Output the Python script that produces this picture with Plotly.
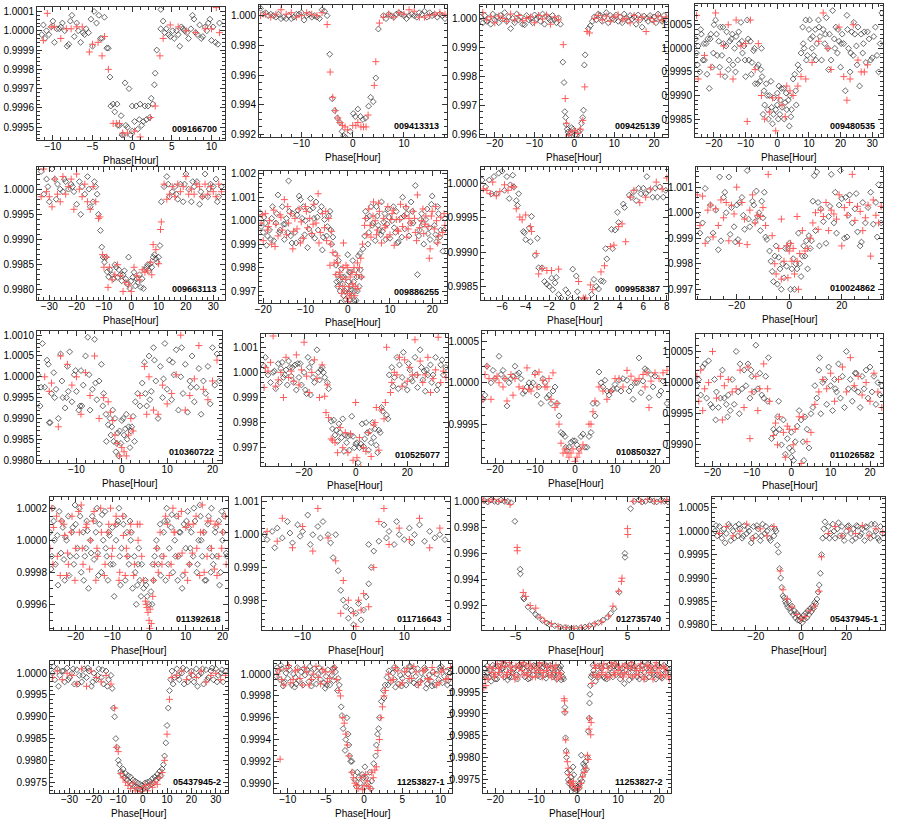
import plotly.graph_objects as go

# ---------------- data (phase in hours, relative flux) ----------------
P01_ID = "009166700"
P01_B = [(-11.4,0.99998),(-11.2,1.00003),(-11.0,0.99996),(-10.8,1.00000),(-10.5,0.99998),(-10.2,1.00002),(-10.0,1.00005),(-9.8,0.99994),(-9.5,1.00001),(-9.2,1.00001),(-9.0,1.00002),(-8.8,1.00004),(-8.5,1.00000),(-8.2,0.99992),(-8.0,0.99993),(-7.8,1.00005),(-7.6,1.00008),(-7.3,0.99997),(-7.0,1.00004),(-6.8,1.00000),(-6.5,0.99994),(-6.2,0.99999),(-6.0,0.99998),(-5.8,1.00001),(-5.5,0.99999),(-5.2,1.00006),(-5.0,0.99992),(-4.8,1.00010),(-4.5,1.00004),(-4.2,1.00008),(-4.0,0.99996),(-3.8,0.99996),(-3.5,1.00007),(-3.2,0.99991),(-3.0,0.99991),(-2.8,0.99976),(-2.7,0.99961),(-2.4,0.99962),(-2.2,0.99958),(-1.9,0.99962),(-1.8,0.99951),(-1.6,0.99951),(-1.4,0.99956),(-1.3,0.99946),(-1.1,0.99946),(-0.9,0.99973),(-0.8,0.99951),(-0.6,0.99950),(-0.4,0.99970),(-0.2,0.99946),(0.0,0.99948),(0.0,0.99961),(0.3,0.99953),(0.5,0.99961),(0.7,0.99949),(0.9,0.99954),(1.0,0.99962),(1.2,0.99951),(1.4,0.99953),(1.6,0.99961),(1.8,0.99954),(2.0,0.99961),(2.2,0.99955),(2.4,0.99965),(2.6,0.99962),(2.8,0.99972),(2.9,0.99978),(3.1,0.99990),(3.6,1.00001),(3.6,1.00011),(3.9,1.00005),(4.1,0.99999),(4.3,1.00001),(4.6,0.99998),(4.8,0.99997),(5.1,1.00000),(5.3,0.99996),(5.6,1.00000),(5.8,0.99998),(6.0,0.99992),(6.2,1.00002),(6.4,1.00001),(6.6,1.00000),(6.9,0.99999),(7.1,0.99996),(7.4,1.00001),(7.6,1.00008),(7.8,1.00006),(8.0,0.99999),(8.2,0.99998),(8.5,1.00003),(8.7,0.99996),(8.9,0.99997),(9.2,1.00002),(9.4,1.00000),(9.6,1.00004),(9.8,1.00006),(10.0,0.99995),(10.2,1.00002),(10.5,0.99994),(10.8,0.99993),(11.0,1.00004)]
P01_R = [(-11.2,0.99995),(-10.7,1.00009),(-10.2,1.00002),(-9.8,1.00002),(-9.0,0.99996),(-8.3,1.00001),(-7.7,1.00001),(-7.0,1.00002),(-6.3,1.00002),(-5.4,0.99989),(-5.0,0.99993),(-4.3,0.99994),(-3.8,0.99987),(-3.5,0.99997),(-3.0,0.99980),(-2.4,0.99952),(-2.0,0.99952),(-1.6,0.99952),(-1.2,0.99947),(-0.6,0.99947),(0.3,0.99948),(1.0,0.99945),(2.3,0.99955),(2.9,0.99961),(3.5,0.99987),(3.9,0.99996),(4.8,1.00003),(5.8,1.00002),(6.8,1.00000),(8.0,0.99999),(9.2,1.00001),(10.0,1.00001),(10.6,1.00012),(11.0,0.99999)]

P02_ID = "009413313"
P02_B = [(-18,1.0005),(-17.5,1.0001),(-17,1.0002),(-16.5,1.0000),(-16,1.0001),(-15.5,1.0000),(-15,0.9999),(-14.5,1.0001),(-14,0.9998),(-13.5,0.9999),(-13,0.9998),(-12.5,1.0000),(-12,0.9998),(-11.5,0.9999),(-11,1.0001),(-10.5,1.0001),(-10,1.0002),(-9.5,0.9997),(-9,1.0000),(-8.5,1.0001),(-8,0.9999),(-7.5,1.0000),(-7,0.9999),(-6.5,0.9998),(-6,1.0004),(-5.5,1.0003),(-5,1.0000),(-4.5,0.9974),(-4,0.9944),(-3.5,0.9936),(-3,0.9931),(-2.5,0.9928),(-2.1,0.9922),(-1.8,0.9919),(-1.4,0.9918),(-0.5,0.9922),(0.1,0.9934),(0.5,0.9932),(1,0.9937),(1.5,0.9932),(2,0.9930),(2.5,0.9931),(3.1,0.9939),(3.5,0.9945),(4,0.9942),(4.5,0.9958),(5,0.9991),(6,1.0000),(6.5,0.9998),(7,1.0001),(7.5,1.0000),(8,0.9999),(8.5,1.0001),(9,1.0002),(9.5,1.0001),(10,1.0000),(10.5,0.9998),(11,1.0000),(11.5,1.0001),(12,1.0000),(12.5,0.9999),(13,1.0002),(13.5,1.0001),(14,1.0003),(14.5,0.9999),(15,1.0002),(15.5,1.0000),(16,1.0001),(16.5,0.9999),(17,1.0001),(17.5,1.0000),(18,0.9998)]
P02_R = [(-18,1.0000),(-17,1.0001),(-16,0.9999),(-15,1.0001),(-14,1.0004),(-13,1.0001),(-12,1.0002),(-11,0.9999),(-10,1.0000),(-9,1.0002),(-8,1.0001),(-7,1.0000),(-6,1.0002),(-5,0.9994),(-4.4,0.9962),(-3.9,0.9945),(-3.4,0.9936),(-2.9,0.9931),(-2.5,0.9928),(-2,0.9926),(-1.5,0.9925),(-1,0.9923),(0,0.9926),(0.6,0.9926),(1,0.9928),(1.6,0.9925),(2.1,0.9925),(2.6,0.9925),(3,0.9933),(4.2,0.9953),(4.5,0.9969),(5.2,0.9995),(6,0.9999),(7,1.0001),(8,0.9999),(9,1.0002),(10,1.0001),(11,1.0004),(12,1.0003),(13,0.9999),(14,0.9999),(15,1.0000),(16,1.0001),(17,1.0002),(18,1.0001)]

P03_ID = "009425139"
P03_B = [(-23.5,1.00005),(-23,0.99985),(-22.5,1.00010),(-22,0.99990),(-21.5,1.00000),(-21,0.99980),(-20.5,1.00015),(-20,0.99995),(-19.5,1.00005),(-19,0.99985),(-18.5,1.00010),(-18,0.99998),(-17.5,1.00020),(-17,0.99990),(-16.5,1.00005),(-16,0.99965),(-15.5,1.00000),(-15,0.99985),(-14.5,1.00015),(-14,0.99995),(-13.5,1.00005),(-13,0.99980),(-12.5,0.99978),(-12,1.00010),(-11.5,0.99995),(-11,1.00000),(-10.5,0.99985),(-10,1.00012),(-9.5,0.99998),(-9,1.00005),(-8.5,0.99990),(-8,1.00015),(-7.5,0.99980),(-7,1.00008),(-6.5,1.00000),(-6,0.99992),(-5.5,1.00010),(-5,0.99995),(-4.5,0.99985),(-4,1.00002),(-3.5,0.99980),(-2.9,0.99850),(-2.6,0.99780),(-2.4,0.99680),(-2.2,0.99660),(-2.0,0.99635),(-1.8,0.99620),(-1.6,0.99610),(-1.4,0.99595),(-1.1,0.99605),(-0.7,0.99625),(-0.3,0.99620),(0.2,0.99600),(0.6,0.99598),(1.0,0.99610),(1.4,0.99615),(1.8,0.99640),(2.1,0.99660),(2.3,0.99685),(2.5,0.99840),(2.7,0.99875),(3.5,0.99965),(4,0.99975),(4.5,0.99990),(5,1.00005),(5.5,0.99995),(6,1.00015),(6.5,1.00010),(7,0.99990),(7.5,1.00005),(8,1.00020),(8.5,0.99985),(9,1.00010),(9.5,1.00000),(10,0.99995),(10.5,1.00012),(11,0.99990),(11.5,1.00005),(12,0.99985),(12.5,1.00015),(13,1.00000),(13.5,0.99990),(14,1.00010),(14.5,0.99998),(15,1.00005),(15.5,0.99980),(16,1.00012),(16.5,0.99995),(17,0.99970),(17.5,1.00008),(18,1.00000),(18.5,0.99990),(19,1.00010),(19.5,0.99995),(20,1.00005),(20.5,0.99985),(21,1.00015),(21.5,1.00000),(22,0.99990),(22.5,1.00010),(23,0.99995)]
P03_R = [(-23,1.00020),(-22,0.99995),(-21,1.00005),(-20,0.99985),(-19,1.00008),(-18,1.00000),(-17,0.99990),(-16,1.00015),(-15,0.99995),(-14,1.00010),(-13,0.99992),(-12,1.00000),(-11,1.00005),(-10,0.99985),(-9,1.00010),(-8,0.99998),(-7,1.00012),(-6,0.99980),(-5,1.00005),(-4,0.99995),(-2.8,0.99910),(-2.3,0.99725),(-2,0.99640),(-1.5,0.99600),(-0.8,0.99610),(0,0.99615),(0.8,0.99605),(1.5,0.99620),(2.1,0.99650),(2.6,0.99765),(3.2,0.99955),(3.8,0.99950),(5,1.00000),(6,1.00010),(7,0.99995),(8,1.00008),(9,0.99990),(10,1.00005),(11,1.00012),(12,0.99995),(13,1.00000),(14,0.99985),(15,1.00010),(16,0.99995),(17,1.00005),(18,0.99955),(19,1.00000),(20,0.99990),(21,1.00008),(22,0.99995),(23,1.00005)]

P04_ID = "009480535"
P04_B = [(-25.8,1.00020),(-25.5,0.99990),(-25,1.00005),(-24.5,0.99950),(-24,1.00030),(-23.5,0.99975),(-23,0.99975),(-22.5,1.00010),(-22,1.00020),(-21.5,0.99915),(-21,1.00030),(-20.5,0.99960),(-20,1.00050),(-19.5,1.00060),(-19,0.99985),(-18.5,1.00015),(-18,1.00045),(-17.5,0.99985),(-17,1.00010),(-16.5,0.99940),(-16,1.00035),(-15.5,0.99955),(-15,1.00015),(-14.5,1.00020),(-14,0.99965),(-13.5,1.00000),(-13,1.00025),(-12.5,0.99975),(-12,1.00010),(-11.5,1.00055),(-11,0.99990),(-10.5,1.00005),(-10,0.99940),(-9.5,1.00060),(-9,0.99975),(-8.5,1.00015),(-8,0.99970),(-7.5,0.99995),(-7,0.99925),(-6.5,0.99960),(-6,0.99965),(-5.5,0.99930),(-5,1.00000),(-4.8,0.99940),(-4.5,0.99860),(-4.2,0.99910),(-4,0.99880),(-3.5,0.99925),(-3,0.99870),(-2.8,0.99850),(-2.5,0.99900),(-2,0.99930),(-1.8,0.99875),(-1.5,0.99840),(-1,0.99895),(-0.5,0.99870),(0,0.99905),(0,0.99880),(0.5,0.99920),(0.8,0.99860),(1,0.99890),(1.5,0.99875),(2,0.99915),(2.2,0.99850),(2.5,0.99885),(3,0.99870),(3.5,0.99890),(3.8,0.99835),(4,0.99900),(4.5,0.99870),(5,0.99935),(5.5,0.99945),(6,0.99880),(6.5,0.99965),(7,0.99955),(7.5,0.99990),(8,1.00045),(8.5,1.00000),(9,1.00060),(9.5,0.99985),(10,1.00040),(10.5,1.00020),(11,1.00000),(11.5,0.99985),(12,1.00040),(12.5,1.00010),(13,1.00060),(13.5,1.00025),(14,0.99975),(14.5,1.00040),(15,1.00010),(15.5,1.00065),(16,1.00000),(16.5,1.00030),(17,0.99975),(17.5,1.00080),(18,1.00020),(18.5,1.00045),(19,0.99990),(19.5,1.00015),(20,0.99960),(20.5,1.00030),(21,1.00010),(21.5,0.99910),(22,1.00070),(22.5,1.00000),(23,0.99950),(23.5,1.00035),(24,0.99985),(24.5,1.00030),(25,1.00005),(25.5,1.00045),(26,0.99920),(26.5,1.00030),(27,0.99990),(27.5,1.00035),(28,0.99970),(29,1.00020),(30,0.99980),(31,1.00045),(32,0.99950),(33,1.00075),
           (-25.2,0.99965),(-24.2,1.00040),(-23.2,1.00010),(-22.2,0.99945),(-21.2,1.00020),(-20.2,0.99990),(-19.2,1.00030),(-18.2,0.99960),(-17.2,1.00045),(-16.2,1.00005),(-15.2,0.99975),(-14.2,1.00030),(-13.2,0.99950),(-12.2,1.00035),(-11.2,1.00015),(-10.2,0.99975),(-9.2,1.00020),(-8.2,0.99945),(-7.2,1.00000),(-6.2,0.99925),(-5.2,0.99955),(-3.2,0.99900),(-1.2,0.99860),(0.3,0.99850),(1.3,0.99915),(2.8,0.99905),(4.3,0.99855),(5.8,0.99910),(8.2,1.00010),(9.2,0.99975),(10.2,1.00060),(11.2,1.00025),(12.2,0.99975),(13.2,1.00045),(15.2,1.00030),(16.2,0.99955),(18.2,1.00000),(19.2,1.00040),(20.2,1.00010),(22.2,1.00040),(23.2,0.99990),(24.2,1.00055),(25.2,0.99965),(27.2,1.00010),(28.5,1.00035),(29.5,0.99975),(30.5,1.00025),(31.5,0.99985),(32.5,1.00010)]
P04_R = [(-25.5,1.00070),(-25,0.99935),(-23,0.99985),(-21,0.99960),(-19.5,1.00075),(-18,0.99945),(-17,1.00005),(-15.5,1.00050),(-14,0.99935),(-13,1.00060),(-11.5,1.00005),(-10,1.00010),(-9.5,0.99845),(-8.5,1.00060),(-7,0.99955),(-6,1.00010),(-5,0.99900),(-4,0.99850),(-2.5,0.99865),(-1.5,0.99895),(-0.5,0.99825),(0.5,0.99895),(1.5,0.99880),(2.5,0.99855),(3,0.99920),(4,0.99910),(5,0.99900),(6.5,0.99920),(7.5,0.99940),(9,0.99935),(11,0.99970),(13,1.00015),(14.5,1.00075),(16,1.00000),(17,0.99955),(19.5,1.00045),(21,0.99940),(22,0.99890),(23,0.99935),(24,1.00050),(25.5,0.99975),(26.5,0.99950),(27.5,0.99950),(28.5,0.99965)]

P05_ID = "009663113"
P05_B = [(-33,1.00035),(-32,0.99990),(-31,1.00020),(-30,0.99975),(-29,1.00040),(-28,1.00020),(-27,1.00010),(-26,1.00000),(-25,0.99995),(-24,1.00015),(-23,1.00000),(-22,1.00010),(-21,0.99995),(-20,0.99970),(-19,1.00015),(-18,1.00005),(-17,0.99990),(-16,1.00025),(-15,0.99965),(-14,0.99975),(-13,1.00005),(-12.5,0.99990),(-12,0.99950),(-30.5,1.00005),(-27.5,0.99980),(-24.5,1.00020),(-21.5,1.00005),(-18.5,0.99950),(-15.5,1.00000),(-13.5,1.00015),(-11.3,0.99918),(-10.8,0.99885),(-10.3,0.99865),(-9.8,0.99855),(-9.3,0.99865),(-8.8,0.99836),(-8.3,0.99826),(-7.8,0.99840),(-7,0.99830),(-6.5,0.99822),(-6,0.99850),(-5.5,0.99845),(-5,0.99825),(-4.5,0.99840),(-4,0.99830),(-3.5,0.99818),(-3,0.99830),(-2.5,0.99838),(-2,0.99822),(-1.5,0.99812),(-1,0.99865),(-0.5,0.99803),(0,0.99818),(0.5,0.99825),(1,0.99835),(1.5,0.99808),(2,0.99822),(2.5,0.99815),(3,0.99830),(3.5,0.99805),(4,0.99822),(4.5,0.99803),(5,0.99840),(5.5,0.99845),(6,0.99850),(6.5,0.99838),(7,0.99852),(7.5,0.99845),(8,0.99865),(8.5,0.99870),(9,0.99862),(9.5,0.99855),(10,0.99865),(10.5,0.99888),(11,0.99975),(12,1.00005),(13,1.00025),(14,0.99985),(15,0.99995),(16,1.00005),(17,0.99980),(18,1.00010),(19,0.99975),(20,1.00030),(21,1.00000),(22,0.99975),(23,1.00005),(24,1.00015),(25,0.99970),(26,0.99985),(27,1.00030),(28,0.99985),(29,1.00010),(30,1.00005),(31,1.00020),(32,0.99985),(33,1.00005),(13.5,1.00010),(16.5,0.99990),(19.5,1.00010),(22.5,1.00015),(25.5,0.99995),(28.5,1.00000),(31.5,0.99975)]
P05_R = [(-33,0.99985),(-32,1.00040),(-31,0.99995),(-30,0.99985),(-29,0.99965),(-28,1.00020),(-27,0.99990),(-26,0.99975),(-25,1.00025),(-24,0.99990),(-23,1.00005),(-22,1.00020),(-21,0.99960),(-20,1.00030),(-19,1.00000),(-18,0.99985),(-17,1.00010),(-16,0.99975),(-15,0.99960),(-14,1.00005),(-13,0.99975),(-12,0.99942),(-11.5,0.99945),(-10.5,0.99870),(-10,0.99845),(-9,0.99865),(-8.5,0.99805),(-8,0.99845),(-7,0.99820),(-6,0.99830),(-5,0.99850),(-4,0.99828),(-3,0.99797),(-2,0.99815),(-1,0.99810),(0,0.99797),(1,0.99845),(2,0.99828),(3,0.99820),(4,0.99840),(5,0.99835),(6,0.99838),(7,0.99855),(7.5,0.99830),(8,0.99890),(9,0.99880),(10,0.99852),(10.7,0.99920),(11,0.99935),(12,1.00010),(13,0.99980),(14,0.99990),(15,1.00005),(16,0.99985),(17,1.00010),(18,0.99995),(19,1.00005),(20,1.00025),(21,0.99990),(22,1.00000),(23,0.99990),(24,1.00010),(25,1.00005),(26,0.99985),(27,1.00010),(28,0.99990),(29,1.00005),(30,0.99995),(31,0.99985),(32,1.00010),(33,0.99995)]

P06_ID = "009886255"
P06_B = [(-20.5,0.99975),(-20,0.99950),(-19.5,0.99990),(-19,0.99935),(-18.5,0.99960),(-18,1.00010),(-17.5,0.99915),(-17,0.99990),(-16.5,1.00110),(-16,0.99960),(-15.5,1.00060),(-15,0.99920),(-14.5,1.00010),(-14,1.00170),(-13.5,0.99935),(-13,1.00030),(-12.5,0.99950),(-12,1.00025),(-11.5,1.00105),(-11,0.99920),(-10.5,1.00060),(-10,1.00000),(-9.5,0.99885),(-9,1.00045),(-8.5,0.99940),(-8,1.00010),(-7.5,1.00080),(-7,0.99960),(-6.5,1.00040),(-6,0.99875),(-5.5,1.00005),(-5,0.99935),(-4.5,1.00020),(-4,0.99960),(-3.5,0.99930),(-19.8,1.00015),(-18.2,0.99920),(-16.8,1.00030),(-15.2,0.99985),(-13.8,1.00040),(-12.2,0.99905),(-10.8,1.00010),(-9.2,0.99965),(-7.8,0.99925),(-6.2,1.00060),(-4.8,0.99975),(-11.2,1.00090),(-8.2,1.00055),(-14.2,0.99950),(-2.8,0.99810),(-2.5,0.99770),(-2.2,0.99830),(-2,0.99745),(-1.8,0.99700),(-1.5,0.99795),(-1.2,0.99730),(-1,0.99680),(-0.8,0.99760),(-0.5,0.99665),(-0.3,0.99710),(0,0.99855),(0.2,0.99740),(0.4,0.99690),(0.6,0.99780),(0.8,0.99720),(1,0.99680),(1.2,0.99830),(1.4,0.99740),(1.6,0.99700),(1.8,0.99790),(2,0.99660),(2.2,0.99760),(2.5,0.99850),(2.7,0.99720),(3,0.99790),(3.2,0.99760),(-1.6,0.99650),(0.5,0.99660),(-2.4,0.99720),(4,0.99935),(4.5,1.00010),(5,0.99950),(5.5,1.00060),(6,0.99990),(6.5,0.99915),(7,1.00020),(7.5,0.99960),(8,1.00080),(8.5,0.99995),(9,0.99920),(9.5,1.00050),(10,0.99925),(10.5,1.00000),(11,0.99970),(11.5,1.00040),(12,0.99910),(12.5,1.00010),(13,1.00100),(13.5,0.99965),(14,1.00030),(14.5,0.99935),(15,1.00080),(15.5,0.99990),(16,1.00150),(16.5,0.99770),(17,0.99960),(17.5,1.00030),(18,0.99900),(18.5,1.00005),(19,0.99945),(19.5,0.99920),(20,1.00105),(20.5,0.99980),(21,0.99910),(21.5,1.00030),(22,0.99960),(22.5,0.99870),(23,1.00010),(5.2,1.00020),(7.2,0.99980),(9.8,1.00015),(11.8,0.99905),(13.8,1.00055),(17.8,0.99985),(19.8,1.00070),(21.8,0.99930),(8.2,0.99955),
           (-20.8,1.00035),(-19.2,0.99895),(-17.8,1.00060),(-16.2,0.99950),(-14.8,0.99985),(-13.2,0.99905),(-11.8,1.00045),(-10.2,0.99940),(-8.8,1.00095),(-7.2,1.00015),(-5.8,0.99930),(-4.2,1.00040),(-3.8,0.99900),(-3.0,0.99860),(-2.6,0.99740),(-1.3,0.99760),(-0.6,0.99700),(0.3,0.99780),(0.9,0.99705),(1.5,0.99660),(2.3,0.99700),(2.9,0.99860),(3.6,0.99880),(4.2,1.00040),(4.8,0.99900),(5.8,0.99980),(6.8,1.00060),(7.8,0.99940),(8.8,1.00030),(9.3,0.99985),(10.8,1.00060),(11.3,0.99950),(12.8,0.99930),(13.3,1.00020),(14.8,0.99990),(15.3,1.00040),(16.8,0.99935),(17.3,1.00005),(18.8,1.00050),(19.3,0.99970),(20.8,0.99940),(21.3,1.00060),(22.8,0.99960)]
P06_R = [(-20.5,0.99990),(-20,0.99915),(-19.5,1.00030),(-19,0.99960),(-18.5,1.00000),(-18,0.99900),(-17.5,1.00045),(-17,0.99985),(-16.5,0.99935),(-16,1.00025),(-15.5,0.99960),(-15,1.00090),(-14.5,0.99940),(-14,0.99990),(-13.5,1.00030),(-13,0.99880),(-12.5,1.00010),(-12,0.99965),(-11.5,1.00050),(-11,0.99995),(-10.5,0.99925),(-10,1.00060),(-9.5,0.99970),(-9,1.00010),(-8.5,0.99945),(-8,1.00070),(-7.5,0.99990),(-7,1.00115),(-6.5,0.99950),(-6,1.00030),(-5.5,0.99970),(-5,0.99915),(-4.5,1.00010),(-4,0.99900),(-3.5,0.99865),(-3.2,0.99820),(-1,0.99905),(-4.2,0.99810),(-2.8,0.99770),(-2.4,0.99820),(-2,0.99720),(-1.7,0.99760),(-1.4,0.99690),(-1.1,0.99800),(-0.8,0.99700),(-0.5,0.99750),(-0.2,0.99670),(0,0.99800),(0.3,0.99720),(0.6,0.99760),(0.9,0.99680),(1.2,0.99730),(1.5,0.99800),(1.8,0.99720),(2.1,0.99770),(2.4,0.99710),(2.8,0.99800),(3.1,0.99840),(0.1,0.99655),(3.5,0.99900),(4,0.99980),(4.5,0.99940),(5,1.00050),(5.5,0.99930),(6,1.00020),(6.5,1.00000),(7,0.99960),(7.5,1.00040),(8,0.99905),(8.5,1.00010),(9,0.99980),(9.5,1.00060),(10,0.99940),(10.5,1.00030),(11,0.99895),(11.5,1.00005),(12,0.99955),(12.5,1.00070),(13,0.99975),(13.5,1.00020),(14,0.99930),(14.5,1.00010),(15,0.99990),(15.5,1.00040),(16,0.99950),(16.5,1.00110),(17,0.99970),(17.5,1.00000),(18,0.99945),(18.5,1.00020),(19,0.99975),(19.5,0.99880),(20,1.00040),(20.5,0.99965),(21,1.00000),(21.5,0.99935),(22,1.00015),(22.5,0.99950),(23,0.99980),(6.1,1.00080),(19.3,0.99840),(10.2,1.00005),
           (-20.2,1.00025),(-18.8,0.99975),(-17.2,0.99890),(-15.8,1.00015),(-14.2,1.00060),(-12.8,0.99955),(-11.2,0.99905),(-9.8,1.00040),(-8.2,0.99985),(-6.8,0.99905),(-5.2,1.00040),(-3.8,0.99955),(-2.5,0.99850),(-1.9,0.99780),(-1.2,0.99720),(-0.4,0.99810),(0.4,0.99690),(1.0,0.99780),(1.7,0.99680),(2.3,0.99820),(3.3,0.99760),(4.2,1.00010),(5.3,0.99980),(6.8,0.99940),(7.3,1.00075),(8.8,0.99970),(9.3,0.99930),(10.8,1.00045),(11.8,0.99960),(12.3,1.00005),(13.8,1.00060),(14.3,0.99965),(15.8,1.00010),(16.3,0.99915),(17.8,1.00050),(18.3,0.99985),(19.8,1.00020),(20.8,1.00060),(21.3,0.99905),(22.8,1.00030)]

P07_ID = "009958387"
P07_B = [(-7.7,1.00005),(-7.4,0.99995),(-7.1,1.00005),(-6.9,0.99985),(-6.7,1.00010),(-6.5,0.99985),(-6.3,1.00015),(-6.0,1.00018),(-5.8,0.99990),(-5.6,1.00010),(-5.4,0.99978),(-5.3,0.99998),(-5.1,1.00012),(-5.0,0.99995),(-4.8,0.99975),(-4.7,0.99968),(-4.6,0.99985),(-4.2,0.99930),(-4.1,0.99928),(-4.0,0.99918),(-3.7,0.99935),(-3.6,0.99915),(-3.5,0.99952),(-3.2,0.99895),(-3.0,0.99920),(-2.9,0.99877),(-2.6,0.99877),(-2.4,0.99857),(-2.2,0.99853),(-2.0,0.99850),(-1.8,0.99862),(-1.7,0.99845),(-1.5,0.99855),(-1.4,0.99863),(-1.2,0.99838),(-1.0,0.99833),(-0.6,0.99845),(-0.4,0.99840),(-0.2,0.99831),(0.0,0.99875),(0.3,0.99865),(0.4,0.99842),(0.5,0.99831),(1.0,0.99831),(1.6,0.99838),(1.8,0.99860),(2.0,0.99850),(2.2,0.99846),(2.4,0.99858),(2.6,0.99857),(2.8,0.99905),(2.9,0.99890),(3.3,0.99933),(3.4,0.99905),(3.6,0.99932),(3.8,0.99958),(3.9,0.99943),(4.3,0.99970),(4.4,0.99965),(4.8,0.99983),(5.0,0.99980),(5.2,0.99988),(5.4,0.99975),(5.6,0.99993),(5.8,0.99985),(6.0,0.99993),(6.2,0.99985),(6.3,1.00010),(6.5,0.99990),(6.8,0.99980),(7.0,0.99993),(7.2,0.99980),(7.4,0.99995),(7.7,0.99980),(7.9,0.99990)]
P07_R = [(-7.6,0.99992),(-7.3,0.99990),(-7.0,0.99985),(-6.8,1.00002),(-6.5,0.99982),(-6.2,0.99988),(-5.8,0.99998),(-5.5,0.99990),(-5.2,0.99995),(-5.0,0.99995),(-4.8,0.99963),(-4.5,0.99951),(-4.3,0.99947),(-4.0,0.99954),(-3.6,0.99937),(-3.5,0.99930),(-3.1,0.99898),(-2.9,0.99868),(-2.6,0.99876),(-2.2,0.99873),(-1.8,0.99873),(-1.2,0.99875),(0.5,0.99857),(0.9,0.99833),(1.1,0.99833),(1.5,0.99852),(1.7,0.99845),(2.4,0.99871),(2.7,0.99880),(3.2,0.99908),(3.5,0.99910),(3.9,0.99937),(4.2,0.99941),(4.5,0.99915),(4.9,0.99980),(5.2,0.99990),(5.7,0.99972),(6.2,0.99980),(6.6,0.99992),(7.1,1.00002),(7.6,0.99992),(8.0,1.00008)]

P08_ID = "010024862"
P08_B = [(-35,0.99990),(-34,0.99920),(-33,0.99960),(-32,1.00095),(-31,0.99895),(-30,1.00030),(-29,0.99920),(-28,1.00010),(-27,0.99855),(-26.5,1.00140),(-26,0.99890),(-25,1.00060),(-24.5,1.00080),(-24,1.00000),(-23,1.00140),(-22.5,0.99915),(-22,1.00020),(-21,0.99945),(-20.5,0.99885),(-20,1.00030),(-19.5,0.99895),(-19,1.00040),(-18,1.00060),(-17.5,0.99990),(-17,0.99935),(-16,1.00165),(-15.5,0.99975),(-15,0.99945),(-14,1.00045),(-13.5,1.00030),(-13,0.99965),(-12.5,1.00085),(-12,0.99985),(-11.5,1.00000),(-11,0.99930),(-10.5,1.00045),(-10,0.99980),(-9.5,1.00080),(-9,0.99905),(-8.5,0.99895),(-7.5,0.99850),(-7,0.99810),(-6.5,0.99770),(-6,0.99730),(-5.5,0.99830),(-5,0.99870),(-4.5,0.99720),(-4,0.99825),(-3.5,0.99780),(-3,0.99700),(-2.5,0.99800),(-2,0.99745),(-1.5,0.99860),(-1,0.99790),(-0.5,0.99860),(0,0.99880),(0.5,0.99700),(1,0.99780),(1.5,0.99820),(2,0.99700),(2.5,0.99800),(3,0.99780),(3.5,0.99920),(4,0.99800),(4.5,0.99750),(5,0.99830),(5.5,0.99870),(6,0.99830),(6.5,0.99890),(7,0.99780),(7.5,0.99910),(8,0.99860),(8.5,0.99890),(9,1.00045),(10,0.99930),(11,1.00040),(11.5,0.99870),(12,1.00015),(13,0.99965),(14,0.99880),(15,0.99985),(15.5,1.00025),(16,1.00150),(17,0.99960),(17.5,1.00080),(18,0.99920),(19,1.00030),(20,1.00055),(21,0.99900),(21.5,1.00060),(22,0.99905),(22.5,0.99990),(23,1.00070),(24,0.99960),(25,1.00015),(25.5,1.00075),(26,0.99925),(27,0.99870),(27.5,0.99885),(28,1.00040),(29,0.99960),(30,1.00020),(31,1.00080),(32,0.99955),(33,1.00040),(33.5,0.99905),(34,1.00110),(35,0.99960),(9.5,1.00145),(10.5,1.00160),(19.5,1.00165)]
P08_R = [(-35,1.00070),(-34,0.99950),(-33,1.00065),(-32,0.99880),(-31,1.00010),(-30,1.00030),(-29,0.99905),(-28,1.00015),(-27,0.99950),(-26,1.00050),(-25,0.99980),(-24,1.00040),(-23,0.99890),(-22,1.00030),(-21,0.99995),(-20,1.00100),(-19,0.99880),(-18,1.00040),(-17,0.99975),(-16,0.99875),(-15,1.00010),(-14,1.00070),(-13,0.99960),(-12,0.99990),(-11,0.99985),(-10,1.00020),(-9,0.99950),(-8,1.00150),(-6.5,0.99910),(-5.5,0.99800),(-5,0.99760),(-4,0.99860),(-3,0.99740),(-2,0.99810),(-1,0.99870),(-0.5,0.99745),(0,0.99850),(0.5,0.99880),(1,0.99810),(1.5,0.99860),(2,0.99760),(3,0.99810),(3.5,0.99700),(4,0.99840),(5,0.99930),(6,0.99850),(7,0.99860),(8,0.99900),(-3,0.99975),(3,0.99985),(9,0.99960),(10,1.00000),(11,0.99935),(12,1.00010),(13,0.99985),(14,1.00040),(15,0.99930),(16,1.00010),(17,0.99995),(18,0.99975),(19,1.00070),(20,0.99870),(21,1.00020),(22,0.99990),(23,1.00040),(24,1.00150),(25,0.99970),(26,1.00025),(27,1.00005),(28,0.99930),(29,0.99980),(30,1.00030),(31,0.99830),(32,1.00050),(33,0.99990),(34,0.99960),(35,1.00025)]

P09_ID = "010360722"
P09_B = [(-18.5,1.00005),(-18,0.99930),(-17.5,1.00080),(-17,0.99975),(-16.5,1.00040),(-16,0.99890),(-15.5,0.99960),(-15,1.00010),(-14.5,0.99970),(-14,0.99900),(-13.5,1.00055),(-13,0.99950),(-12.5,0.99925),(-12,1.00025),(-11.5,1.00060),(-11,0.99940),(-10.5,1.00005),(-10,0.99965),(-9.5,0.99920),(-9,1.00015),(-8.5,0.99980),(-8,1.00050),(-7.5,1.00095),(-7,0.99920),(-6.5,0.99970),(-6,1.00090),(-5.5,0.99945),(-5,0.99990),(-4.5,1.00030),(-4,0.99960),(-3.5,0.99910),(-17.8,0.99975),(-16.2,1.00030),(-14.8,0.99950),(-13.2,0.99990),(-11.8,0.99965),(-10.2,1.00015),(-8.8,0.99930),(-7.2,1.00005),(-5.8,0.99985),(-4.2,0.99930),(-15.8,0.99890),(-12.2,0.99950),(-9.2,0.99930),(-3,0.99885),(-2.6,0.99900),(-2.4,0.99860),(-2.2,0.99880),(-2,0.99920),(-1.8,0.99845),(-1.5,0.99900),(-1.3,0.99820),(-1.1,0.99840),(-0.9,0.99865),(-0.7,0.99810),(-0.5,0.99870),(-0.2,0.99840),(0,0.99895),(0.3,0.99900),(0.5,0.99860),(0.8,0.99875),(1,0.99910),(1.2,0.99850),(1.5,0.99880),(1.8,0.99830),(2,0.99870),(2.2,0.99880),(2.5,0.99905),(2.8,0.99845),(3,0.99940),(-3.4,0.99845),(3.5,0.99960),(4,0.99930),(4.5,0.99985),(5,1.00035),(5.5,0.99930),(6,1.00050),(6.5,0.99965),(7,1.00070),(7.5,0.99990),(8,0.99900),(8.5,1.00025),(9,0.99950),(9.5,1.00080),(10,0.99970),(10.5,1.00040),(11,0.99945),(11.5,1.00005),(12,1.00065),(12.5,0.99920),(13,1.00000),(13.5,0.99960),(14,1.00030),(14.5,0.99915),(15,0.99990),(15.5,1.00050),(16,0.99940),(16.5,0.99975),(17,1.00020),(17.5,0.99910),(18,0.99990),(18.5,0.99960),(19,1.00025),(19.5,0.99935),(20,1.00070),(20.5,0.99980),(21,1.00055),(21.5,0.99990),(22,1.00075),(5.2,0.99960),(7.2,1.00040),(9.2,0.99995),(11.2,1.00035),(13.2,1.00070),(15.2,0.99975),(6.2,0.99945)]
P09_R = [(-17,1.00000),(-16,0.99965),(-15.5,0.99985),(-14,0.99880),(-13.5,1.00050),(-12,1.00030),(-11,0.99980),(-10,1.00000),(-9,0.99910),(-8,1.00010),(-7,0.99955),(-6,1.00050),(-5,0.99900),(-4,0.99950),(-3,0.99940),(-2.5,0.99915),(-2,0.99895),(-1.5,0.99860),(-1,0.99840),(-0.5,0.99810),(0,0.99830),(0.5,0.99820),(1,0.99810),(1.5,0.99860),(2,0.99900),(2.5,0.99870),(4,0.99955),(5,1.00025),(5.5,0.99910),(6,1.00000),(7,0.99920),(8,0.99910),(9,0.99980),(10,0.99935),(11,0.99960),(12,1.00005),(13,1.00100),(14,0.99920),(15,0.99955),(16,0.99995),(17,1.00075),(18,0.99970),(19,0.99945),(20,0.99990),(21,1.00040)]

P10_ID = "010525077"
P10_B = [(-35.5,1.00025),(-35,1.00060),(-34,0.99990),(-33,0.99960),(-32,1.00000),(-31,0.99935),(-30,1.00035),(-29.5,0.99960),(-29,1.00015),(-28.5,1.00040),(-28,0.99980),(-27,1.00010),(-26.5,0.99950),(-26,1.00045),(-25.5,1.00020),(-25,0.99985),(-24,0.99960),(-23.5,1.00030),(-23,0.99930),(-22,0.99980),(-21.5,1.00035),(-21,0.99950),(-20,1.00000),(-19,0.99915),(-18.5,1.00060),(-18,1.00020),(-17,1.00040),(-16.5,0.99980),(-16,0.99960),(-15,1.00090),(-14.5,1.00000),(-14,0.99970),(-13,1.00020),(-12.5,1.00000),(-12,0.99980),(-11,0.99960),(-10.5,0.99935),(-31.5,1.00005),(-27.5,0.99990),(-24.5,1.00020),(-19.5,0.99930),(-17.5,0.99910),(-13.5,1.00010),(-22.5,1.00035),(-9.5,0.99805),(-9,0.99775),(-8.5,0.99810),(-8,0.99750),(-7.5,0.99770),(-7,0.99725),(-6.5,0.99795),(-6,0.99760),(-5.5,0.99740),(-5,0.99815),(-4.5,0.99685),(-4,0.99750),(-3.5,0.99720),(-3,0.99745),(-2.5,0.99690),(-2,0.99750),(-1.5,0.99825),(-1,0.99745),(-0.5,0.99700),(0,0.99715),(0.5,0.99720),(1,0.99640),(1.5,0.99700),(2,0.99715),(2.5,0.99795),(3,0.99705),(3.5,0.99735),(4,0.99800),(4.5,0.99760),(5,0.99690),(5.5,0.99765),(6,0.99720),(6.5,0.99800),(7,0.99740),(7.5,0.99775),(8,0.99710),(8.5,0.99680),(9,0.99770),(9.5,0.99760),(10,0.99860),(10.5,0.99845),(12,0.99830),(12.5,0.99815),(13,0.99990),(14,1.00020),(15,0.99980),(16,1.00060),(16.5,0.99935),(17,1.00030),(18,0.99980),(18.5,1.00080),(19,0.99950),(20,0.99930),(20.5,1.00035),(21,1.00010),(22,0.99965),(23,1.00060),(23.5,0.99990),(24,0.99940),(25,1.00090),(25.5,1.00020),(26,0.99970),(27,0.99925),(27.5,1.00010),(28,0.99990),(29,1.00030),(29.5,0.99960),(30,0.99990),(31,1.00060),(32,0.99950),(33,1.00030),(33.5,1.00050),(34,0.99990),(35,1.00020),(14.5,0.99945),(21.5,0.99975),(26.5,1.00005),(31.5,0.99930)]
P10_R = [(-35.5,0.99940),(-35,1.00020),(-34,1.00005),(-33,1.00040),(-32,1.00145),(-31,0.99945),(-30,0.99970),(-29,1.00000),(-28,0.99900),(-27,1.00060),(-26,0.99980),(-25,1.00005),(-24,0.99965),(-23,1.00070),(-22,0.99950),(-21,1.00010),(-20,1.00120),(-19,0.99985),(-18,0.99920),(-17,1.00000),(-16,1.00050),(-15,0.99975),(-14,0.99900),(-13,1.00030),(-12,0.99905),(-11,0.99950),(-11.5,0.99840),(-10.5,0.99820),(-9.5,0.99735),(-9,0.99730),(-8,0.99720),(-7,0.99680),(-6,0.99780),(-5,0.99700),(-4,0.99760),(-3,0.99680),(-2,0.99755),(-1,0.99650),(0,0.99880),(0.5,0.99660),(1.5,0.99740),(2,0.99620),(3,0.99700),(4,0.99685),(5,0.99760),(6,0.99665),(7,0.99790),(7.5,0.99800),(8,0.99860),(9,0.99690),(10,0.99850),(11,0.99815),(11.5,0.99880),(12,1.00100),(13.5,0.99920),(14,0.99960),(15,1.00000),(16,0.99990),(17,1.00060),(18,0.99945),(19,1.00050),(20,0.99965),(21,1.00020),(22,0.99990),(23,1.00130),(24,0.99990),(25,1.00045),(26,0.99960),(27,0.99990),(28,1.00060),(29,0.99920),(30,0.99975),(31,1.00010),(32,1.00140),(33,0.99960),(34,1.00005),(35,0.99980)]

P11_ID = "010850327"
P11_B = [(-23,0.99980),(-22.5,0.99985),(-22,1.00020),(-21,1.00000),(-20,1.00005),(-19,1.00032),(-18.5,1.00010),(-18,1.00015),(-17.5,1.00005),(-17,0.99972),(-16.5,1.00000),(-16,1.00005),(-15,1.00020),(-14.5,1.00010),(-14,1.00012),(-13.5,1.00005),(-13,0.99987),(-12.5,0.99990),(-12,0.99995),(-11.5,1.00000),(-11,0.99995),(-10.5,1.00000),(-10,1.00012),(-9.5,0.99985),(-9,0.99995),(-8.5,0.99975),(-8,1.00005),(-7.5,1.00000),(-7,0.99982),(-6.5,0.99985),(-6,0.99975),(-5.5,0.99990),(-5,0.99995),(-4.5,0.99975),(-4,0.99960),(-3.5,0.99940),(-3,0.99938),(-2.5,0.99935),(-2.3,0.99922),(-2,0.99918),(-1.5,0.99922),(-1,0.99928),(-0.5,0.99930),(0,0.99930),(0.5,0.99925),(1,0.99920),(1.5,0.99935),(2,0.99938),(2.5,0.99922),(3,0.99922),(3.5,0.99935),(4,0.99940),(4.5,0.99975),(5,0.99960),(5.5,0.99975),(6,1.00013),(6.5,1.00000),(7,0.99995),(7.5,1.00003),(8,0.99990),(8.5,0.99985),(9,0.99990),(9.5,0.99992),(10,0.99998),(10.5,0.99993),(11,1.00003),(11.5,0.99990),(12,1.00005),(13,1.00003),(13.5,0.99990),(14,0.99995),(14.5,0.99980),(15,1.00000),(15.5,1.00000),(16,1.00030),(16.5,0.99988),(17,1.00002),(17.5,1.00017),(18,1.00015),(18.5,0.99982),(19,1.00010),(19.5,0.99995),(20,1.00008),(21,0.99985),(21.5,0.99990),(22,1.00002),(23,0.99975),(-20.5,1.00015),(-15.5,1.00008)]
P11_R = [(-23,0.99980),(-22.5,1.00010),(-22,1.00020),(-21.5,1.00005),(-21,0.99980),(-20,1.00005),(-19.5,1.00008),(-19,1.00000),(-18,0.99995),(-17.5,1.00005),(-17,0.99978),(-16,1.00010),(-15.5,0.99985),(-15,1.00005),(-14,0.99995),(-13,0.99993),(-12,1.00018),(-11.5,0.99992),(-11,0.99990),(-10,1.00010),(-9.5,0.99995),(-9,1.00013),(-8,1.00003),(-7.5,0.99995),(-7,0.99995),(-6.5,1.00005),(-6,0.99980),(-5.5,1.00012),(-5,0.99970),(-4.5,0.99975),(-4,0.99950),(-3.5,0.99927),(-3,0.99915),(-2.5,0.99920),(-2,0.99915),(-1.5,0.99910),(-1,0.99915),(-0.5,0.99920),(0,0.99905),(0.5,0.99910),(1,0.99915),(1.5,0.99920),(2,0.99925),(3.5,0.99950),(4,0.99950),(4.5,0.99965),(5,0.99978),(6,0.99995),(7,0.99990),(8,0.99980),(9,0.99990),(10,1.00005),(11,1.00005),(12,0.99995),(13,1.00015),(14,1.00008),(15,1.00003),(16,1.00005),(17,1.00010),(17.5,0.99995),(18,1.00012),(19,1.00002),(20,1.00012),(21,1.00005),(22,1.00012),(23,1.00015),(18.5,0.99970)]

P12_ID = "011026582"
P12_B = [(-24,0.99995),(-23.5,1.00005),(-23,0.99980),(-22.5,1.00025),(-22,1.00030),(-21.5,0.99975),(-21,1.00035),(-20.5,0.99965),(-20,0.99960),(-19.5,1.00005),(-19,0.99985),(-18.5,0.99960),(-18,0.99975),(-17.5,1.00020),(-17,0.99975),(-16.5,0.99965),(-16,0.99980),(-15.5,0.99955),(-15,1.00005),(-14.5,0.99965),(-14,1.00050),(-13.5,0.99985),(-13,1.00030),(-12.5,0.99990),(-12,1.00020),(-11.5,0.99995),(-11,1.00030),(-10.5,0.99975),(-10,1.00010),(-9.5,0.99985),(-9,1.00060),(-8.5,0.99990),(-8,1.00015),(-7.5,0.99980),(-7,0.99975),(-6.5,1.00010),(-6,0.99970),(-5.8,1.00040),(-19.2,0.99940),(-16.2,0.99945),(-13.2,0.99950),(-10.2,1.00020),(-5,0.99910),(-4.5,0.99925),(-4,0.99920),(-3.5,0.99945),(-3,0.99925),(-2.5,0.99900),(-2,0.99940),(-1.5,0.99885),(-1,0.99910),(-0.5,0.99895),(0,0.99920),(0.3,0.99890),(0.6,0.99875),(1,0.99905),(1.5,0.99930),(2,0.99955),(2.5,0.99940),(3,0.99905),(3.2,0.99875),(3.5,0.99945),(4,0.99925),(4.5,0.99895),(5,0.99950),(-3.2,0.99970),(0,0.99880),(5.5,0.99960),(6,0.99995),(6.5,0.99975),(7,1.00020),(7.5,0.99950),(8,1.00000),(8.5,1.00005),(9,0.99965),(9.5,1.00025),(10,0.99995),(10.5,0.99955),(11,1.00005),(11.5,0.99985),(12,1.00030),(12.5,0.99975),(13,1.00010),(13.5,0.99960),(14,1.00050),(14.5,0.99990),(15,1.00005),(15.5,0.99970),(16,0.99990),(16.5,1.00015),(17,0.99985),(17.5,0.99960),(18,1.00010),(18.5,0.99990),(19,1.00020),(19.5,0.99975),(20,1.00025),(20.5,0.99985),(21,1.00010),(21.5,0.99965),(22,1.00000),(22.5,0.99980),(23,0.99995),(7.2,1.00040),(11.2,0.99990),(16.2,1.00015)]
P12_R = [(-24,1.00010),(-23.5,0.99970),(-23,1.00020),(-22,0.99990),(-21,1.00000),(-20,1.00050),(-19,0.99975),(-18,1.00010),(-17,0.99995),(-16,1.00005),(-15,0.99985),(-14,0.99990),(-13,1.00020),(-12,0.99960),(-11,1.00025),(-10,0.99985),(-9,1.00010),(-8.5,0.99955),(-8,0.99990),(-7,1.00030),(-6,0.99990),(-5.5,0.99970),(-4.5,0.99915),(-4,0.99935),(-3.5,0.99900),(-3,0.99945),(-2,0.99920),(-1.5,0.99880),(-0.5,0.99925),(0.5,0.99900),(1,0.99925),(2,0.99945),(2.5,0.99870),(3,0.99945),(4,0.99905),(5,0.99920),(6,0.99965),(7,0.99985),(8,1.00005),(9,0.99990),(10,1.00015),(11,0.99970),(12,1.00005),(13,1.00025),(14,0.99985),(15,1.00040),(16,0.99995),(17,1.00010),(18,0.99980),(19,1.00000),(20,0.99970),(21,1.00015),(22,0.99985),(23,0.99960),(-1,0.99930),(-22.5,0.99955),(-17.5,0.99940),(-10.5,0.99910)]

P13_ID = "011392618"
P13_B = [(-27,1.00005),(-26.5,0.99990),(-26,1.00012),(-25.5,0.99985),(-25,1.00003),(-24.5,1.00018),(-24,0.99992),(-23.5,1.00008),(-23,0.99975),(-22.5,1.00000),(-22,1.00015),(-21.5,0.99990),(-21,1.00005),(-20.5,0.99985),(-20,1.00010),(-19.5,0.99995),(-19,1.00020),(-18.5,0.99980),(-18,1.00005),(-17.5,0.99990),(-17,1.00012),(-16.5,0.99970),(-16,1.00000),(-15.5,1.00015),(-15,0.99988),(-14.5,1.00005),(-14,0.99992),(-13.5,1.00010),(-13,0.99980),(-12.5,1.00000),(-12,1.00018),(-11.5,0.99990),(-11,1.00005),(-10.5,0.99985),(-10,1.00008),(-9.5,0.99965),(-9,1.00000),(-8.5,1.00012),(-8,0.99990),(-7.5,0.99995),(-7,1.00010),(-6.5,0.99975),(-6,1.00005),(-5.5,0.99985),(-5,1.00000),(-4.5,0.99970),(-4,0.99990),(-3.5,0.99960),(-3,0.99985),(-2.5,0.99975),(-2,0.99985),(-1.5,0.99970),(-1,0.99975),(-0.5,0.99965),(0,0.99960),(0.5,0.99968),(1,0.99985),(1.5,0.99990),(2,1.00000),(2.5,0.99985),(3,1.00010),(3.5,0.99990),(4,1.00005),(4.5,0.99975),(5,1.00012),(5.5,0.99995),(6,1.00008),(6.5,0.99980),(7,1.00000),(7.5,1.00015),(8,0.99990),(8.5,1.00005),(9,0.99970),(9.5,1.00010),(10,0.99995),(10.5,1.00018),(11,0.99985),(11.5,1.00005),(12,0.99990),(12.5,1.00012),(13,0.99980),(13.5,1.00000),(14,1.00015),(14.5,0.99990),(15,1.00005),(15.5,0.99975),(16,1.00010),(16.5,0.99995),(17,1.00020),(17.5,0.99985),(18,1.00005),(18.5,0.99990),(19,1.00012),(19.5,0.99980),(20,1.00000),(20.5,1.00015),(21,0.99992),
           (-26.2,1.00020),(-23.2,0.99988),(-20.2,1.00022),(-17.2,0.99995),(-14.2,1.00020),(-11.2,0.99975),(-8.2,1.00020),(-5.2,1.00012),(4.8,1.00020),(7.8,0.99975),(10.8,1.00008),(13.8,1.00022),(16.8,0.99980),(19.8,1.00018),(-3.2,0.99972),(1.2,0.99975),
           (-26.7,0.99982),(-25.8,1.00000),(-24.8,0.99972),(-23.8,1.00012),(-22.8,1.00002),(-21.8,0.99978),(-20.8,1.00008),(-19.8,0.99990),(-18.8,1.00015),(-17.8,0.99975),(-16.8,1.00006),(-15.8,0.99992),(-14.8,1.00012),(-13.8,0.99978),(-12.8,1.00016),(-11.8,0.99995),(-10.8,1.00003),(-9.8,0.99985),(-8.8,1.00010),(-7.8,0.99972),(-6.8,1.00015),(-5.8,0.99990),(-4.8,1.00005),(-3.8,0.99980),(-2.8,0.99995),(-2.2,0.99965),(-0.8,0.99972),(0.8,0.99960),(2.2,0.99995),(3.2,0.99978),(4.2,1.00012),(5.2,0.99985),(6.2,1.00016),(7.2,0.99990),(8.2,1.00005),(9.2,0.99978),(10.2,1.00012),(11.2,0.99995),(12.2,1.00020),(13.2,0.99985),(14.2,1.00000),(15.2,0.99975),(16.2,1.00015),(17.2,0.99990),(18.2,1.00008),(19.2,0.99972),(20.2,1.00005),(21.2,0.99990)]
P13_R = [(-27,0.99995),(-26,1.00008),(-25,0.99990),(-24,1.00012),(-23,1.00003),(-22,0.99985),(-21,1.00015),(-20,0.99995),(-19,1.00005),(-18,0.99985),(-17,1.00010),(-16,1.00000),(-15,1.00018),(-14,0.99990),(-13,1.00005),(-12,0.99985),(-11,1.00010),(-10,0.99995),(-9,1.00015),(-8,0.99980),(-7,1.00003),(-6,0.99990),(-5,1.00010),(-4,0.99985),(-3,1.00000),(-2,0.99990),(-1.5,0.99975),(-1,0.99962),(-0.6,0.99958),(-0.3,0.99955),(0,0.99950),(0.3,0.99957),(0.6,0.99948),(1,0.99965),(1.5,0.99985),(2,0.99995),(3,1.00005),(4,0.99990),(5,1.00010),(6,0.99985),(7,1.00005),(8,1.00015),(9,0.99992),(10,1.00008),(11,0.99985),(12,1.00010),(13,0.99995),(14,1.00005),(15,0.99980),(16,1.00012),(17,0.99995),(18,1.00010),(19,0.99990),(20,1.00005),(21,0.99985),
           (-26.5,1.00020),(-22.5,0.99978),(-18.5,1.00022),(-14.5,0.99975),(-10.5,1.00020),(-6.5,0.99978),(-2.5,1.00010),(2.5,0.99980),(6.5,1.00020),(10.5,0.99975),(14.5,1.00022),(18.5,0.99978),
           (-26.2,0.99985),(-25.2,1.00015),(-24.2,0.99978),(-23.2,1.00010),(-22.2,0.99992),(-21.2,1.00005),(-20.2,0.99975),(-19.2,1.00018),(-18.2,0.99995),(-17.2,1.00008),(-16.2,0.99982),(-15.2,1.00012),(-14.2,0.99995),(-13.2,1.00020),(-12.2,0.99978),(-11.2,1.00005),(-10.2,0.99990),(-9.2,1.00010),(-8.2,0.99975),(-7.2,1.00015),(-6.2,0.99995),(-5.2,1.00005),(-4.2,0.99978),(-3.2,1.00010),(-0.8,0.99960),(0.2,0.99945),(1.2,0.99975),(3.5,0.99985),(4.5,1.00015),(5.5,0.99978),(6.8,1.00005),(7.8,0.99990),(8.8,1.00018),(9.8,0.99980),(10.8,1.00010),(11.8,0.99992),(12.8,1.00015),(13.8,0.99978),(14.8,1.00005),(15.8,0.99990),(16.8,1.00012),(17.8,0.99982),(18.8,1.00010),(19.8,0.99995),(20.8,1.00015)]

P14_ID = "011716643"
P14_B = [(-17.5,1.00000),(-17,0.99985),(-16,1.00010),(-15.5,0.99960),(-15,1.00020),(-14,0.99990),(-13,1.00040),(-12.5,1.00005),(-12,0.99975),(-11,1.00030),(-10.5,0.99995),(-10,1.00010),(-9,1.00060),(-8.5,0.99970),(-8,1.00000),(-7,1.00025),(-6.5,0.99990),(-6,1.00040),(-5,1.00000),(-4.5,0.99975),(-4,0.99930),(-3,0.99890),(-2.5,0.99830),(-2,0.99800),(-1.5,0.99780),(-1,0.99745),(-0.5,0.99770),(0,0.99725),(0.5,0.99760),(1,0.99790),(1.5,0.99740),(2,0.99770),(2.5,0.99810),(3,0.99850),(3.5,0.99900),(4,0.99950),(5,0.99980),(6,1.00030),(6.5,0.99990),(7,1.00010),(8,0.99970),(8.5,1.00040),(9,1.00000),(10,0.99985),(11,1.00020),(11.5,0.99975),(12,1.00000),(13,1.00030),(14,0.99980),(15,1.00010),(16,0.99990),(17,1.00000),(18,0.99985),(-3.5,1.00000),(3,0.99970)]
P14_R = [(-17,1.00010),(-15,0.99980),(-14,1.00050),(-12,0.99960),(-10,1.00025),(-8,0.99950),(-7,1.00080),(-5,0.99990),(-3.5,0.99920),(-2.5,0.99760),(-2,0.99860),(-1,0.99800),(0,0.99760),(0.5,0.99720),(1,0.99800),(1.5,0.99770),(2,0.99820),(3,0.99780),(4,0.99900),(5,1.00040),(7,0.99970),(9,1.00020),(11,0.99985),(13,1.00050),(15,0.99960),(17,1.00020),(6,1.00080)]

P15_ID = "012735740"
P15_B = [(-7.8,1.00005),(-7.5,0.99995),(-7.2,1.00010),(-6.9,1.00000),(-6.6,0.99995),(-6.3,1.00010),(-6.0,1.00000),(-5.7,1.00000),(-5.4,0.99990),(-5.06,0.99846),(-4.59,0.99479),(-4.57,0.99443),(-4.3,0.99260),(-4.25,0.99250),(-3.9,0.99190),(-3.5,0.99160),(-3.2,0.99130),(-3.0,0.99115),(-2.6,0.99085),(-2.2,0.99065),(-2.0,0.99055),(-1.5,0.99045),(-1.0,0.99035),(-0.6,0.99030),(-0.3,0.99025),(0.0,0.99022),(0.4,0.99025),(0.8,0.99028),(1.2,0.99035),(1.6,0.99045),(2.0,0.99055),(2.4,0.99068),(2.8,0.99088),(3.2,0.99110),(3.5,0.99140),(3.8,0.99175),(4.25,0.99302),(4.76,0.99600),(4.77,0.99570),(5.27,0.99943),(5.6,1.00000),(6.0,1.00010),(6.3,0.99995),(6.6,1.00000),(7.0,1.00010),(7.3,1.00000),(7.6,0.99995),(8.0,1.00010),(8.3,1.00000),(8.6,0.99995)]
P15_R = [(-7.9,1.00010),(-7.4,1.00000),(-7.0,1.00015),(-6.5,1.00000),(-6.0,1.00010),(-5.5,0.99975),(-4.86,0.99646),(-4.85,0.99620),(-4.32,0.99300),(-4.1,0.99270),(-3.7,0.99200),(-3.2,0.99180),(-2.8,0.99110),(-2.4,0.99080),(-1.8,0.99060),(-1.2,0.99040),(-0.5,0.99030),(0.2,0.99025),(0.9,0.99030),(1.5,0.99040),(2.1,0.99060),(2.7,0.99075),(3.3,0.99120),(3.7,0.99195),(4.2,0.99310),(4.45,0.99385),(4.5,0.99410),(5.0,0.99790),(5.02,0.99745),(5.5,1.00000),(6.2,1.00000),(6.8,1.00015),(7.4,1.00000),(8.0,1.00000),(8.5,1.00010)]

P16_ID = "05437945-1"
P16_B = [(-38,1.00000),(-37,0.99990),(-36,1.00010),(-35,0.99985),(-34,1.00005),(-33,0.99995),(-32,1.00015),(-31,0.99980),(-30,1.00000),(-29,1.00010),(-28,0.99990),(-27,1.00005),(-26,0.99985),(-25,1.00012),(-24,0.99995),(-23,1.00000),(-22,0.99975),(-21,1.00010),(-20,0.99990),(-19,1.00005),(-18,0.99980),(-17,1.00015),(-16,0.99995),(-15,1.00000),(-14,0.99985),(-13,1.00008),(-12,0.99990),(-11,1.00000),(-10.5,0.99970),(-37.5,1.00012),(-35.5,0.99995),(-33.5,0.99975),(-31.5,1.00010),(-29.5,0.99985),(-27.5,1.00015),(-25.5,0.99990),(-23.5,1.00008),(-21.5,0.99985),(-19.5,1.00012),(-17.5,0.99990),(-15.5,1.00010),(-13.5,0.99980),(-11.5,1.00005),(-10,0.99955),(-9.5,0.99920),(-9,0.99900),(-8.5,0.99880),(-8,0.99862),(-7.5,0.99858),(-7,0.99850),(-6.5,0.99845),(-6,0.99838),(-5.5,0.99850),(-5,0.99835),(-4.5,0.99828),(-4,0.99840),(-3.5,0.99822),(-3,0.99830),(-2.5,0.99815),(-2,0.99825),(-1.5,0.99810),(-1,0.99820),(-0.5,0.99808),(0,0.99815),(0.5,0.99805),(1,0.99820),(1.5,0.99812),(2,0.99825),(2.5,0.99815),(3,0.99830),(3.5,0.99822),(4,0.99835),(4.5,0.99828),(5,0.99840),(5.5,0.99835),(6,0.99848),(6.5,0.99845),(7,0.99855),(7.5,0.99870),(8,0.99885),(8.5,0.99910),(9,0.99950),(9.5,0.99985),(10,1.00005),(11,0.99990),(12,1.00010),(13,0.99995),(14,1.00015),(15,0.99985),(16,1.00005),(17,0.99990),(18,1.00010),(19,0.99980),(20,1.00000),(21,1.00012),(22,0.99995),(23,1.00005),(24,0.99985),(25,1.00010),(26,0.99990),(27,1.00005),(28,0.99980),(29,1.00008),(30,0.99995),(31,1.00015),(32,0.99990),(33,1.00000),(34,0.99985),(35,1.00010),(36,0.99995),(10.5,1.00020),(12.5,0.99985),(14.5,1.00000),(16.5,1.00018),(18.5,0.99990),(20.5,1.00010),(22.5,0.99980),(24.5,1.00012),(26.5,0.99995),(28.5,1.00010),(30.5,0.99985),(32.5,1.00015),(34.5,0.99980)]
P16_R = [(-36,0.99995),(-33,1.00010),(-30,0.99990),(-27,1.00000),(-24,1.00015),(-21,0.99985),(-18,1.00005),(-15,0.99990),(-12,1.00010),(-9.2,0.99915),(-8,0.99875),(-6,0.99855),(-4,0.99838),(-2,0.99822),(0,0.99812),(2,0.99818),(4,0.99830),(6,0.99840),(8,0.99872),(9,0.99945),(12,0.99995),(15,1.00010),(18,0.99990),(21,1.00005),(24,0.99995),(27,1.00012),(30,0.99990),(33,1.00005),(36,0.99998)]

P17_ID = "05437945-2"
P17_B = [(-37,1.00000),(-36,0.99985),(-35,1.00010),(-34,0.99995),(-33,1.00005),(-32,0.99980),(-31,1.00012),(-30,0.99990),(-29,1.00000),(-28,0.99975),(-27,1.00008),(-26,0.99995),(-25,0.99980),(-24,1.00010),(-23,0.99990),(-22,1.00005),(-21,0.99970),(-20,1.00000),(-19,0.99985),(-18,1.00010),(-17,0.99990),(-16,0.99975),(-15,1.00005),(-14,0.99985),(-13,0.99995),(-12.5,0.99965),(-36.5,1.00015),(-34.5,0.99970),(-32.5,1.00005),(-30.5,0.99985),(-28.5,1.00010),(-26.5,0.99975),(-24.5,0.99995),(-22.5,1.00012),(-20.5,0.99980),(-18.5,0.99995),(-16.5,1.00008),(-14.5,0.99970),(-12,0.99920),(-11.5,0.99900),(-11,0.99850),(-10.5,0.99830),(-10,0.99800),(-9.5,0.99790),(-9,0.99775),(-8.5,0.99768),(-8,0.99780),(-7.5,0.99760),(-7,0.99770),(-6.5,0.99755),(-6,0.99765),(-5.5,0.99750),(-5,0.99762),(-4.5,0.99745),(-4,0.99755),(-3.5,0.99740),(-3,0.99752),(-2.5,0.99738),(-2,0.99748),(-1.5,0.99735),(-1,0.99745),(-0.5,0.99732),(0,0.99742),(0.5,0.99735),(1,0.99748),(1.5,0.99738),(2,0.99750),(2.5,0.99740),(3,0.99752),(3.5,0.99745),(4,0.99758),(4.5,0.99748),(5,0.99762),(5.5,0.99755),(6,0.99768),(6.5,0.99760),(7,0.99775),(7.5,0.99765),(8,0.99780),(8.5,0.99790),(9,0.99810),(9.5,0.99840),(10,0.99880),(10.5,0.99920),(11,0.99960),(11.5,0.99985),(12,1.00005),(13,0.99990),(14,1.00010),(15,0.99985),(16,1.00000),(17,0.99975),(18,1.00008),(19,0.99990),(20,1.00005),(21,0.99980),(22,1.00010),(23,0.99995),(24,1.00000),(25,0.99975),(26,1.00008),(27,0.99990),(28,1.00005),(29,0.99985),(30,1.00010),(31,0.99995),(32,1.00000),(33,0.99980),(34,1.00005),(12.5,0.99975),(14.5,0.99995),(16.5,1.00012),(18.5,0.99980),(20.5,0.99995),(22.5,0.99970),(24.5,1.00010),(26.5,0.99985),(28.5,1.00012),(30.5,0.99980),(32.5,1.00008)]
P17_R = [(-37,0.99990),(-35,1.00005),(-33,0.99985),(-31,1.00000),(-29,0.99995),(-27,0.99975),(-25,1.00010),(-23,0.99970),(-21,1.00005),(-19,0.99990),(-17,0.99980),(-15,0.99995),(-13,0.99975),(-11.5,0.99920),(-10.8,0.99830),(-10,0.99820),(-9,0.99770),(-8,0.99760),(-7,0.99750),(-6,0.99742),(-5,0.99735),(-4,0.99748),(-3,0.99730),(-2,0.99738),(-1,0.99728),(0,0.99735),(1,0.99742),(2,0.99730),(3,0.99745),(4,0.99738),(5,0.99750),(6,0.99745),(7,0.99760),(8,0.99772),(9,0.99800),(10,0.99860),(11,0.99940),(12,0.99990),(14,0.99995),(16,1.00005),(18,0.99985),(20,1.00000),(22,0.99990),(24,1.00005),(26,0.99980),(28,0.99995),(30,1.00000),(32,0.99985),(34,0.99995)]

P18_ID = "11253827-1"
P18_B = [(-11.5,0.99998),(-11.25,1.00003),(-11,0.99995),(-10.75,1.00005),(-10.5,0.99992),(-10.25,1.00001),(-10,0.99996),(-9.75,1.00004),(-9.5,0.99990),(-9.25,1.00000),(-9,0.99997),(-8.75,1.00006),(-8.5,0.99994),(-8.25,1.00002),(-8,0.99990),(-7.75,0.99999),(-7.5,1.00004),(-7.25,0.99993),(-7,1.00001),(-6.75,0.99996),(-6.5,1.00005),(-6.25,0.99991),(-6,1.00000),(-5.75,0.99995),(-5.5,1.00003),(-5.25,0.99992),(-5,0.99998),(-4.75,1.00004),(-4.5,0.99990),(-4.25,0.99999),(-4,0.99994),(-3.75,1.00002),(-3.5,0.99985),(-3.25,0.99990),(-3,0.99970),(-2.75,0.99950),(-2.5,0.99930),(-2.25,0.99960),(-2,0.99935),(-1.75,0.99920),(-1.5,0.99910),(-1.25,0.99903),(-1,0.99897),(-0.75,0.99905),(-0.5,0.99900),(-0.25,0.99908),(0,0.99896),(0.25,0.99905),(0.5,0.99900),(0.75,0.99910),(1,0.99902),(1.25,0.99918),(1.5,0.99925),(1.75,0.99945),(2,0.99960),(2.25,0.99975),(2.5,0.99985),(2.75,0.99990),(3,0.99997),(3.25,1.00003),(3.5,0.99993),(3.75,1.00001),(4,0.99995),(4.25,1.00005),(4.5,0.99991),(4.75,0.99999),(5,0.99996),(5.25,1.00004),(5.5,0.99990),(5.75,1.00000),(6,0.99994),(6.25,1.00003),(6.5,0.99992),(6.75,0.99998),(7,1.00005),(7.25,0.99993),(7.5,1.00001),(7.75,0.99996),(8,1.00004),(8.25,0.99991),(8.5,0.99999),(8.75,0.99994),(9,1.00002),(9.25,0.99990),(9.5,1.00000),(9.75,0.99995),(10,1.00004),(10.25,0.99992),(10.5,0.99998),(10.75,1.00003),(11,0.99994),(11.25,1.00001),(-10.9,1.00008),(-9.1,0.99988),(-7.1,1.00007),(-5.1,0.99987),(-3.9,1.00006),(4.1,0.99988),(6.1,1.00007),(8.1,0.99987),(10.1,1.00007),(-2.1,0.99945),(0.1,0.99915),(1.6,0.99935),(-1.6,0.99920),
           (-11.4,1.00006),(-10.6,0.99989),(-9.9,1.00007),(-8.9,0.99991),(-7.9,1.00005),(-6.9,0.99989),(-5.9,1.00006),(-4.9,0.99990),(-4.1,1.00005),(-3.4,0.99996),(-2.9,0.99962),(-2.4,0.99940),(-1.9,0.99925),(-0.9,0.99910),(-0.1,0.99905),(0.9,0.99895),(1.9,0.99950),(2.6,0.99978),(3.1,0.99990),(3.9,1.00006),(4.9,0.99989),(5.9,1.00007),(6.9,0.99990),(7.9,1.00006),(8.9,0.99989),(9.9,1.00006),(10.9,0.99990),(11.4,1.00004)]
P18_R = [(-11.4,1.00000),(-10.8,0.99995),(-10.2,1.00005),(-9.6,0.99992),(-9,1.00003),(-8.4,0.99996),(-7.8,1.00006),(-7.2,0.99990),(-6.6,1.00000),(-6,0.99997),(-5.4,1.00004),(-4.8,0.99993),(-4.2,1.00002),(-3.6,0.99995),(-3.1,0.99980),(-2.8,0.99960),(-2.4,0.99945),(-2,0.99925),(-1.6,0.99910),(-1.2,0.99900),(-0.8,0.99895),(-0.4,0.99905),(0,0.99898),(0.4,0.99902),(0.8,0.99895),(1.2,0.99905),(1.6,0.99915),(2,0.99940),(2.4,0.99970),(2.8,0.99985),(3.2,1.00000),(3.8,0.99995),(4.4,1.00003),(5,0.99992),(5.6,1.00005),(6.2,0.99996),(6.8,1.00002),(7.4,0.99993),(8,1.00004),(8.6,0.99995),(9.2,1.00001),(9.8,0.99992),(10.4,1.00004),(11,0.99996),(-11.0,0.99922),
           (-11.1,1.00004),(-10.5,0.99990),(-9.9,1.00008),(-9.3,0.99995),(-8.7,1.00004),(-8.1,0.99990),(-7.5,1.00002),(-6.9,0.99995),(-6.3,1.00007),(-5.7,0.99991),(-5.1,1.00002),(-4.5,0.99996),(-3.9,1.00006),(-3.3,0.99985),(-2.6,0.99955),(-2.2,0.99935),(-1.4,0.99905),(-1.0,0.99898),(-0.2,0.99894),(0.2,0.99908),(0.6,0.99897),(1.0,0.99910),(1.4,0.99912),(1.8,0.99930),(2.2,0.99960),(2.6,0.99980),(3.5,0.99994),(4.1,1.00006),(4.7,0.99990),(5.3,1.00002),(5.9,0.99996),(6.5,1.00007),(7.1,0.99990),(7.7,1.00003),(8.3,0.99996),(8.9,1.00006),(9.5,0.99990),(10.1,1.00002),(10.7,0.99995),(11.3,1.00006)]

P19_ID = "11253827-2"
P19_B = [(-22.8,0.99990),(-22.3,0.99985),(-21.8,0.99995),(-21.3,1.00000),(-20.8,0.99990),(-20.3,1.00005),(-19.8,0.99990),(-19.3,1.00010),(-18.8,0.99995),(-18.3,1.00005),(-17.8,0.99985),(-17.3,1.00000),(-16.8,0.99990),(-16.3,1.00010),(-15.8,0.99995),(-15.3,1.00005),(-14.8,0.99990),(-14.3,1.00012),(-13.8,0.99995),(-13.3,1.00005),(-12.8,0.99985),(-12.3,1.00010),(-11.8,0.99995),(-11.3,1.00005),(-10.8,0.99990),(-10.3,1.00010),(-9.8,0.99995),(-9.3,1.00012),(-8.8,0.99998),(-8.3,1.00008),(-7.8,0.99990),(-7.3,1.00010),(-6.8,0.99995),(-6.3,1.00005),(-5.8,0.99990),(-5.3,1.00008),(-4.8,0.99995),(-4.3,1.00005),(-3.8,0.99995),(-3.5,0.99985),(-3.3,0.99980),(-22,1.00010),(-20,0.99980),(-18,1.00015),(-16,0.99985),(-14,1.00008),(-12,0.99980),(-10,1.00005),(-8,1.00015),(-6,0.99985),(-4,1.00010),(-21,0.99975),(-17,0.99978),(-13,1.00015),(-9,0.99985),(-5,0.99980),(-3.0,0.99915),(-3.0,0.99903),(-2.85,0.99845),(-2.7,0.99815),(-2.6,0.99800),(-2.4,0.99765),(-2.2,0.99748),(-2.0,0.99740),(-1.8,0.99770),(-1.6,0.99745),(-1.4,0.99735),(-1.2,0.99730),(-1.0,0.99778),(-0.8,0.99760),(-0.6,0.99728),(-0.4,0.99735),(-0.2,0.99725),(0.0,0.99730),(0.2,0.99732),(0.4,0.99728),(0.6,0.99740),(0.8,0.99750),(1.0,0.99805),(1.2,0.99745),(1.4,0.99760),(1.6,0.99770),(1.8,0.99780),(2.0,0.99790),(2.2,0.99772),(2.5,0.99800),(2.7,0.99860),(2.9,0.99890),(3.0,0.99925),(3.1,0.99945),(3.2,0.99965),(3.4,0.99985),(3.6,0.99990),(4,1.00000),(4.5,0.99975),(5,1.00010),(5.5,0.99995),(6,1.00005),(6.5,0.99985),(7,1.00010),(7.5,0.99990),(8,1.00005),(8.5,0.99995),(9,1.00010),(9.5,0.99990),(10,1.00005),(10.5,0.99980),(11,1.00005),(11.5,0.99970),(12,1.00010),(12.5,0.99995),(13,1.00005),(13.5,0.99985),(14,1.00010),(14.5,0.99995),(15,1.00005),(15.5,0.99990),(16,1.00012),(16.5,0.99995),(17,1.00005),(17.5,0.99985),(18,1.00010),(18.5,0.99995),(19,1.00005),(19.5,0.99990),(20,1.00010),(20.5,0.99985),(21,1.00000),(21.5,0.99995),(22,1.00005),(22.5,0.99990),(3.8,1.00012),(5.2,0.99985),(7.2,0.99980),(9.2,1.00015),(11.2,0.99995),(13.2,1.00015),(15.2,0.99980),(17.2,1.00015),(19.2,0.99980),(21.2,1.00012),
           (-22.6,1.00005),(-21.6,0.99985),(-20.6,1.00012),(-19.6,0.99980),(-18.6,1.00002),(-17.6,1.00012),(-16.6,0.99985),(-15.6,1.00002),(-14.6,0.99980),(-13.6,1.00012),(-12.6,0.99998),(-11.6,0.99982),(-10.6,1.00012),(-9.6,0.99988),(-8.6,1.00005),(-7.6,0.99982),(-6.6,1.00012),(-5.6,0.99995),(-4.6,1.00008),(-3.9,0.99978),(4.2,0.99990),(5.7,1.00010),(6.7,0.99982),(7.7,1.00012),(8.7,0.99985),(9.7,1.00008),(10.7,0.99990),(11.7,1.00012),(12.7,0.99978),(13.7,1.00005),(14.7,0.99985),(15.7,1.00012),(16.7,0.99980),(17.7,1.00005),(18.7,0.99990),(19.7,1.00012),(20.7,0.99982),(21.7,1.00008),(22.7,0.99995),(-1.5,0.99755),(1.5,0.99785),(-0.4,0.99720),(0.5,0.99735)]
P19_R = [(-22.8,0.99960),(-22.3,0.99965),(-21.8,0.99980),(-21,0.99995),(-20.5,1.00005),(-20,0.99990),(-19.5,1.00015),(-19,0.99995),(-18.5,1.00008),(-18,0.99985),(-17.5,1.00010),(-17,0.99995),(-16.5,1.00018),(-16,1.00000),(-15.5,0.99990),(-15,1.00010),(-14.5,0.99985),(-14,1.00015),(-13.5,1.00000),(-13,0.99990),(-12.5,1.00010),(-12,0.99995),(-11.5,1.00015),(-11,0.99985),(-10.5,1.00005),(-10,0.99995),(-9.5,1.00010),(-9,1.00000),(-8.5,0.99985),(-8,1.00015),(-7.5,1.00000),(-7,0.99990),(-6.5,1.00010),(-6,0.99995),(-5.5,1.00005),(-5,0.99980),(-4.5,0.99995),(-4,0.99985),(-3.2,0.99935),(-3.1,0.99930),(-3.0,0.99905),(-2.8,0.99840),(-2.6,0.99810),(-2.4,0.99790),(-2.2,0.99775),(-2.0,0.99760),(-1.8,0.99745),(-1.5,0.99740),(-1.2,0.99735),(-0.9,0.99745),(-0.5,0.99730),(0.0,0.99725),(0.5,0.99730),(0.9,0.99740),(1.3,0.99755),(1.7,0.99765),(2.1,0.99775),(2.5,0.99805),(2.7,0.99795),(2.9,0.99865),(3.0,0.99890),(3.3,0.99852),(3.4,0.99880),(3.6,0.99970),(4,0.99990),(4.5,1.00005),(5,0.99985),(5.5,1.00010),(6,0.99995),(6.5,1.00015),(7,0.99990),(7.5,1.00005),(8,0.99985),(8.5,1.00010),(9,0.99995),(9.5,1.00015),(10,1.00000),(10.5,0.99990),(11,1.00010),(11.5,0.99995),(12,1.00015),(12.5,0.99990),(13,1.00005),(13.5,0.99985),(14,1.00010),(14.5,1.00000),(15,0.99990),(15.5,1.00015),(16,1.00000),(16.5,0.99985),(17,1.00010),(17.5,0.99995),(18,1.00005),(18.5,0.99980),(19,1.00010),(19.5,0.99995),(20,1.00005),(20.5,0.99985),(21,1.00010),(21.5,0.99990),(22,1.00000),(22.5,0.99980),
           (-22.5,0.99980),(-21.5,1.00008),(-20.2,0.99985),(-19.2,1.00005),(-18.2,1.00020),(-17.2,0.99990),(-16.2,1.00008),(-15.2,0.99980),(-14.2,1.00005),(-13.2,1.00018),(-12.2,0.99988),(-11.2,1.00005),(-10.2,0.99985),(-9.2,1.00018),(-8.2,0.99995),(-7.2,1.00008),(-6.2,0.99985),(-5.2,1.00012),(-4.2,0.99992),(4.3,1.00012),(5.3,0.99990),(6.3,1.00005),(7.3,0.99985),(8.3,1.00018),(9.3,0.99990),(10.3,1.00008),(11.3,0.99985),(12.3,1.00005),(13.3,1.00018),(14.3,0.99990),(15.3,1.00005),(16.3,0.99980),(17.3,1.00012),(18.3,0.99995),(19.3,1.00018),(20.3,0.99990),(21.3,1.00005),(22.3,0.99985)]

# ---------------- panel layout / axes ----------------
W, H = 898, 823
# (id, black, red, box(l,t,r,b) px, xrange, xdtick, xminor, yrange, ydtick, yminor, yfmt)
PANELS = [
    (P01_ID, P01_B, P01_R, (37, 7, 225, 140), [-12.0, 11.7], 5, 1, [0.999434, 1.000123], 0.0001, 0.00002, ".4f"),
    (P02_ID, P02_B, P02_R, (259, 5, 447, 137), [-18.3, 18.4], 10, 2, [0.99182, 1.00072], 0.002, 0.0005, ".3f"),
    (P03_ID, P03_B, P03_R, (480, 5, 668, 137), [-23.7, 23.5], 10, 2, [0.99593, 1.00046], 0.001, 0.0002, ".3f"),
    (P04_ID, P04_B, P04_R, (695, 4, 883, 137), [-26.0, 33.4], 10, 2, [0.99812, 1.00094], 0.0005, 0.0001, ".4f"),
    (P05_ID, P05_B, P05_R, (37, 167, 225, 300), [-34.5, 34.3], 10, 2, [0.99780, 1.00044], 0.0005, 0.0001, ".4f"),
    (P06_ID, P06_B, P06_R, (259, 171, 447, 303), [-21.0, 23.5], 10, 2, [0.99649, 1.00212], 0.001, 0.0002, ".3f"),
    (P07_ID, P07_B, P07_R, (481, 167, 668, 300), [-7.8, 8.1], 2, 0.5, [0.99830, 1.00024], 0.0005, 0.0001, ".4f"),
    (P08_ID, P08_B, P08_R, (696, 167, 883, 299), [-35.5, 35.7], 20, 5, [0.99662, 1.00179], 0.001, 0.0002, ".3f"),
    (P09_ID, P09_B, P09_R, (37, 331, 222, 463), [-18.7, 22.1], 10, 2, [0.99793, 1.00110], 0.0005, 0.0001, ".4f"),
    (P10_ID, P10_B, P10_R, (261, 334, 448, 466), [-36.7, 35.8], 20, 5, [0.99627, 1.00153], 0.001, 0.0002, ".3f"),
    (P11_ID, P11_B, P11_R, (482, 331, 669, 463), [-23.25, 23.5], 10, 2, [0.99903, 1.000626], 0.0005, 0.0001, ".4f"),
    (P12_ID, P12_B, P12_R, (696, 334, 883, 466), [-24.2, 23.3], 10, 2, [0.99866, 1.00078], 0.0005, 0.0001, ".4f"),
    (P13_ID, P13_B, P13_R, (50, 497, 228, 630), [-27.0, 21.5], 10, 2, [0.99944, 1.00027], 0.0002, 0.00005, ".4f"),
    (P14_ID, P14_B, P14_R, (262, 497, 450, 630), [-18.0, 19.0], 10, 2, [0.99709, 1.00115], 0.001, 0.0002, ".3f"),
    (P15_ID, P15_B, P15_R, (482, 497, 669, 630), [-8.0, 8.7], 5, 1, [0.99012, 1.00033], 0.002, 0.0005, ".3f"),
    (P16_ID, P16_B, P16_R, (712, 497, 885, 630), [-39.3, 37.0], 20, 5, [0.99789, 1.00073], 0.0005, 0.0001, ".4f"),
    (P17_ID, P17_B, P17_R, (50, 661, 228, 793), [-38.0, 35.0], 10, 2, [0.99725, 1.00028], 0.0005, 0.0001, ".4f"),
    (P18_ID, P18_B, P18_R, (274, 661, 452, 793), [-11.8, 11.5], 5, 1, [0.99891, 1.00012], 0.0002, 0.00005, ".4f"),
    (P19_ID, P19_B, P19_R, (483, 661, 671, 793), [-23.0, 22.9], 10, 2, [0.99718, 1.000217], 0.0005, 0.0001, ".4f"),
]

FONT = "Liberation Sans, Arial, Helvetica, sans-serif"
fig = go.Figure()
layout = dict(width=W, height=H, margin=dict(l=0, r=0, t=0, b=0, autoexpand=False),
              paper_bgcolor="white", plot_bgcolor="white", showlegend=False,
              font=dict(family=FONT, size=10, color="black"))
annotations = []

for i, (pid, blk, red, box, xr, xd, xm, yr, yd, ym, yfmt) in enumerate(PANELS, start=1):
    l, t, r, b = box
    sfx = "" if i == 1 else str(i)
    xa, ya = "x" + sfx, "y" + sfx
    common = dict(showline=True, linecolor="#333333", linewidth=1, mirror="allticks",
                  ticks="inside", ticklen=5, tickwidth=1, tickcolor="#333333",
                  showgrid=False, zeroline=False,
                  tickfont=dict(family=FONT, size=10, color="black"))
    layout["xaxis" + sfx] = dict(common, domain=[l / W, r / W], anchor=ya, range=xr,
                                 tick0=0, dtick=xd, tickformat="d", ticklabelstandoff=-3,
                                 minor=dict(ticks="inside", ticklen=3, tickcolor="#333333", dtick=xm, tick0=0, showgrid=False))
    layout["yaxis" + sfx] = dict(common, domain=[1 - b / H, 1 - t / H], anchor=xa, range=yr,
                                 tick0=1.0, dtick=yd, tickformat=yfmt,
                                 minor=dict(ticks="inside", ticklen=3, tickcolor="#333333", dtick=ym, tick0=1.0, showgrid=False))
    fig.add_trace(go.Scatter(x=[p[0] for p in blk], y=[p[1] for p in blk], mode="markers",
                             xaxis=xa, yaxis=ya, cliponaxis=True,
                             marker=dict(symbol="diamond-open", size=4.5, color="#2a2a2a", line=dict(width=0.7))))
    fig.add_trace(go.Scatter(x=[p[0] for p in red], y=[p[1] for p in red], mode="markers",
                             xaxis=xa, yaxis=ya, cliponaxis=True,
                             marker=dict(symbol="cross-thin-open", size=5, color="rgb(255,90,90)",
                                         line=dict(width=1, color="rgb(255,90,90)"))))
    annotations.append(dict(text="<b>" + pid + "</b>", xref=xa + " domain", yref=ya + " domain", x=0.97, y=0.03,
                            xanchor="right", yanchor="bottom", showarrow=False,
                            font=dict(family=FONT, size=9, color="black")))
    annotations.append(dict(text="Phase[Hour]", xref="paper", yref="paper", x=(l + r) / 2 / W,
                            y=1 - (b + 20) / H, xanchor="center", yanchor="middle", showarrow=False,
                            font=dict(family=FONT, size=10, color="black")))

layout["annotations"] = annotations
fig.update_layout(**layout)
fig.write_html("out.html", config={"displayModeBar": False},
               post_script="document.body.style.margin='0px';document.body.style.padding='0px';")
